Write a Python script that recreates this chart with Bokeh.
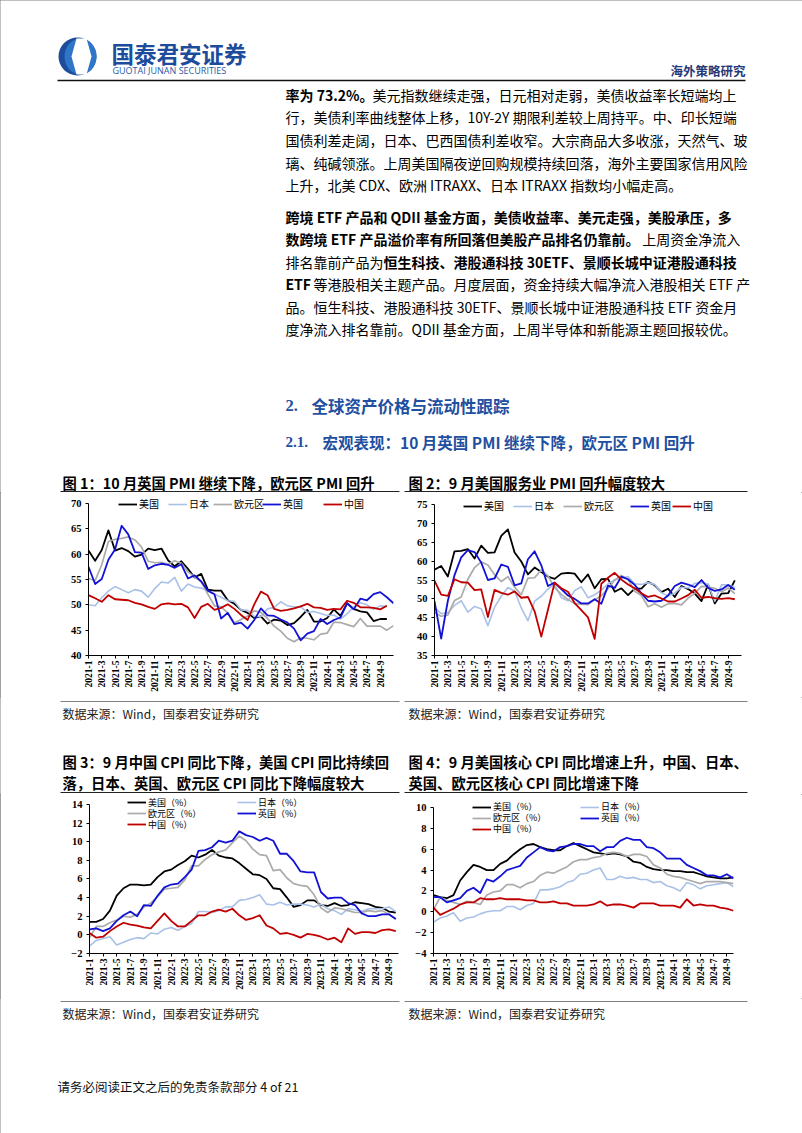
import math
from bokeh.plotting import figure
from bokeh.models import Range1d, FixedTicker, Legend, LegendItem, ColumnDataSource
from bokeh.layouts import column, row
from bokeh.embed import file_html
from bokeh.resources import INLINE
from bokeh.core.properties import value

# ---------------- data ----------------
tick_labels = ["2021-1", "2021-3", "2021-5", "2021-7", "2021-9", "2021-11",
               "2022-1", "2022-3", "2022-5", "2022-7", "2022-9", "2022-11",
               "2023-1", "2023-3", "2023-5", "2023-7", "2023-9", "2023-11",
               "2024-1", "2024-3", "2024-5", "2024-7", "2024-9"]
series_names = ["美国", "日本", "欧元区", "英国", "中国"]

# Fig 1: manufacturing PMI
mfg_us = [60.7, 58.7, 60.8, 64.7, 60.7, 61.2, 60.6, 59.5, 59.9, 61.1, 60.8, 61.1, 58.8, 57.6, 58.6, 57.1,
          55.4, 56.1, 53.0, 52.8, 52.8, 50.9, 50.2, 49.0, 48.4, 47.4, 47.7, 46.3, 47.1, 46.9, 46.0, 46.4,
          47.6, 49.0, 46.7, 46.7, 47.4, 49.1, 47.8, 50.3, 49.2, 48.7, 48.5, 46.8, 47.2, 47.2]
mfg_jp = [50.0, 49.8, 51.4, 52.7, 53.6, 53.0, 52.4, 53.0, 52.7, 51.5, 53.2, 54.5, 54.3, 55.4, 52.7, 54.1,
          53.5, 53.3, 52.7, 52.1, 51.5, 50.8, 50.7, 49.0, 48.9, 47.7, 47.7, 49.2, 49.5, 50.6, 49.8, 49.6,
          49.6, 48.5, 48.7, 48.3, 47.9, 48.0, 47.2, 48.2, 49.6, 50.4, 50.0, 49.1, 49.8, 49.7]
mfg_ez = [55.2, 54.8, 57.9, 62.5, 62.9, 63.1, 63.4, 62.8, 61.4, 58.6, 58.3, 58.4, 58.0, 58.7, 58.2, 56.5,
          55.5, 54.6, 52.1, 49.8, 49.6, 48.4, 46.4, 47.1, 47.8, 48.8, 48.5, 47.3, 45.8, 44.8, 43.4, 42.7,
          43.5, 43.4, 43.1, 44.2, 44.4, 46.6, 46.5, 46.1, 45.7, 47.3, 45.8, 45.8, 45.8, 45.0, 45.9]
mfg_uk = [57.5, 54.1, 55.1, 58.9, 60.9, 65.6, 63.9, 60.4, 60.3, 57.1, 57.8, 58.1, 57.9, 57.3, 58.0, 55.2,
          55.8, 54.6, 52.8, 52.1, 47.3, 48.4, 46.2, 46.5, 45.3, 47.0, 49.3, 47.9, 47.8, 47.1, 46.5, 45.3,
          43.0, 44.3, 44.8, 47.2, 46.2, 47.0, 47.5, 50.3, 49.1, 51.2, 50.9, 52.1, 52.5, 51.5, 50.3]
mfg_cn = [51.9, 51.3, 50.6, 51.9, 51.1, 51.0, 50.9, 50.4, 50.1, 49.6, 49.2, 50.1, 50.3, 50.1, 50.2, 49.5,
          47.4, 49.6, 50.2, 49.0, 49.4, 50.1, 49.2, 48.0, 47.0, 50.1, 52.6, 51.9, 49.2, 48.8, 49.0, 49.3,
          49.7, 50.2, 49.5, 49.4, 49.0, 49.2, 49.1, 50.8, 50.4, 49.5, 49.5, 49.4, 49.1, 49.8]

# Fig 2: services PMI
svc_us = [57.7, 58.7, 55.9, 62.6, 62.7, 63.2, 60.7, 64.1, 62.2, 62.3, 66.7, 68.4, 62.3, 59.9, 56.5, 58.3,
          57.1, 55.9, 55.3, 56.7, 56.9, 56.7, 54.4, 56.5, 52.8, 55.2, 55.3, 51.9, 52.8, 51.0, 52.7, 52.7,
          54.5, 53.6, 51.8, 52.7, 50.5, 53.4, 52.6, 51.4, 49.4, 53.8, 48.8, 51.4, 51.5, 54.9]
svc_jp = [47.7, 46.1, 46.3, 48.3, 49.5, 46.5, 48.0, 47.4, 42.9, 47.8, 50.7, 53.0, 52.1, 47.6, 44.2, 49.4,
          50.7, 52.6, 54.0, 50.3, 49.5, 52.2, 53.2, 50.3, 51.1, 52.3, 54.0, 55.0, 55.4, 55.9, 54.0, 53.8,
          54.3, 53.8, 51.6, 50.8, 51.5, 53.1, 52.9, 54.1, 54.3, 53.8, 49.4, 53.7, 53.7, 53.1]
svc_ez = [46.4, 45.4, 45.7, 49.6, 50.5, 55.2, 58.3, 59.8, 59.0, 56.4, 54.6, 55.9, 53.1, 51.1, 55.5, 55.6,
          57.7, 56.1, 53.0, 51.2, 49.8, 48.8, 48.6, 48.5, 49.8, 50.8, 52.7, 55.0, 56.2, 55.1, 52.0, 50.9,
          47.9, 48.7, 47.8, 48.7, 48.8, 48.4, 50.2, 51.5, 53.3, 53.2, 52.8, 51.9, 52.9, 51.4]
svc_uk = [49.4, 39.5, 49.5, 56.3, 61.0, 62.9, 62.4, 59.6, 55.0, 55.4, 59.1, 58.5, 53.6, 54.1, 60.5, 62.6,
          58.9, 53.4, 54.3, 52.6, 50.9, 50.0, 48.8, 48.8, 49.9, 48.7, 53.5, 52.9, 55.9, 55.2, 53.7, 51.5,
          49.5, 49.3, 49.5, 50.9, 53.4, 54.3, 53.8, 53.1, 55.0, 52.9, 52.1, 52.5, 53.7, 52.4]
svc_cn = [54.8, 51.1, 50.8, 55.2, 54.4, 54.3, 52.3, 52.5, 45.2, 52.4, 51.6, 51.1, 52.0, 50.3, 50.5, 46.7,
          40.0, 47.1, 54.3, 52.8, 51.9, 48.9, 47.0, 45.1, 39.4, 54.0, 55.6, 56.9, 55.1, 53.8, 52.8, 51.5,
          50.5, 50.9, 50.1, 49.3, 49.3, 50.1, 51.0, 52.4, 50.3, 50.5, 50.2, 50.0, 50.2, 49.9]

# Fig 3: CPI YoY (%)
cpi_us = [1.4, 1.4, 1.7, 2.6, 4.2, 5.0, 5.4, 5.4, 5.3, 5.4, 6.2, 6.8, 7.0, 7.5, 7.9, 8.5, 8.3, 8.6, 9.1, 8.5,
          8.3, 8.2, 7.7, 7.1, 6.5, 6.4, 6.0, 5.0, 4.9, 4.0, 3.0, 3.2, 3.7, 3.7, 3.2, 3.1, 3.4, 3.1, 3.2, 3.5,
          3.4, 3.3, 3.0, 2.9, 2.5, 2.4]
cpi_jp = [-1.2, -0.6, -0.4, -0.2, -1.1, -0.8, -0.5, -0.3, -0.4, 0.2, 0.1, 0.6, 0.8, 0.5, 0.9, 1.2, 2.5, 2.5,
          2.4, 2.6, 3.0, 3.0, 3.7, 3.8, 4.0, 4.3, 3.3, 3.2, 3.5, 3.2, 3.3, 3.3, 3.2, 3.0, 3.3, 2.8, 2.6, 2.2,
          2.8, 2.7, 2.5, 2.8, 2.8, 2.8, 3.0, 2.5]
cpi_ez = [-0.3, 0.9, 0.9, 1.3, 1.6, 2.0, 1.9, 2.2, 3.0, 3.4, 4.1, 4.9, 5.0, 5.1, 5.9, 7.4, 7.4, 8.1, 8.6, 8.9,
          9.1, 9.9, 10.6, 10.1, 9.2, 8.6, 8.5, 6.9, 7.0, 6.1, 5.5, 5.3, 5.2, 4.3, 2.9, 2.4, 2.9, 2.8, 2.6,
          2.4, 2.4, 2.6, 2.5, 2.6, 2.2, 1.7]
cpi_uk = [0.6, 0.7, 0.4, 0.7, 1.5, 2.1, 2.5, 2.0, 3.2, 3.1, 4.2, 5.1, 5.4, 5.5, 6.2, 7.0, 9.0, 9.1, 9.4, 10.1,
          9.9, 10.1, 11.1, 10.7, 10.5, 10.1, 10.4, 10.1, 8.7, 8.7, 7.9, 6.8, 6.7, 6.7, 4.6, 3.9, 4.0, 4.0,
          3.4, 3.2, 2.3, 2.0, 2.0, 2.2, 2.2, 1.7]
cpi_cn = [0.2, -0.3, -0.2, 0.4, 0.9, 1.3, 1.1, 1.0, 0.8, 0.7, 1.5, 2.3, 1.5, 0.9, 0.9, 1.5, 2.1, 2.1, 2.5, 2.7,
          2.5, 2.8, 2.1, 1.6, 1.8, 2.1, 1.0, 0.7, 0.1, 0.2, 0.0, -0.3, 0.1, 0.0, -0.2, -0.5, -0.3, -0.8,
          0.7, 0.1, 0.3, 0.3, 0.2, 0.5, 0.6, 0.4]

# Fig 4: core CPI YoY (%)
core_us = [1.6, 1.4, 1.3, 1.6, 3.0, 3.8, 4.5, 4.3, 4.0, 4.0, 4.6, 4.9, 5.5, 6.0, 6.4, 6.5, 6.2, 6.0, 5.9, 5.9,
           6.3, 6.6, 6.3, 6.0, 5.7, 5.6, 5.5, 5.6, 5.5, 5.3, 4.8, 4.7, 4.3, 4.1, 4.0, 4.0, 3.9, 3.9, 3.8,
           3.8, 3.6, 3.4, 3.3, 3.2, 3.2, 3.3]
core_jp = [-1.0, -0.6, -0.4, -0.1, -0.9, -0.6, -0.5, -0.2, 0.0, 0.1, 0.1, 0.5, 0.5, 0.2, 0.6, 0.8, 2.1, 2.1,
           2.2, 2.4, 2.8, 3.0, 3.6, 3.7, 4.0, 4.2, 3.1, 3.1, 3.4, 3.2, 3.3, 3.1, 3.1, 2.8, 2.9, 2.5, 2.3, 2.0,
           2.8, 2.6, 2.2, 2.5, 2.6, 2.7, 2.8, 2.4]
core_ez = [0.2, 1.4, 1.1, 0.9, 0.7, 1.0, 0.9, 0.7, 1.6, 1.9, 2.0, 2.6, 2.6, 2.3, 2.7, 2.9, 3.5, 3.8, 3.7, 4.0,
           4.3, 4.8, 5.0, 5.0, 5.2, 5.3, 5.6, 5.7, 5.6, 5.3, 5.5, 5.5, 5.3, 4.5, 4.2, 3.6, 3.4, 3.3, 3.1,
           2.9, 2.7, 2.9, 2.9, 2.9, 2.8, 2.7]
core_uk = [1.4, 1.4, 0.9, 1.1, 1.3, 2.0, 2.3, 1.8, 3.1, 2.9, 3.4, 4.0, 4.2, 4.4, 5.2, 5.7, 6.2, 5.9, 5.8, 6.2,
           6.3, 6.5, 6.5, 6.3, 6.3, 5.8, 6.2, 6.2, 6.8, 7.1, 6.9, 6.9, 6.2, 6.1, 5.7, 5.1, 5.1, 5.1, 4.5,
           4.2, 3.9, 3.5, 3.5, 3.3, 3.6, 3.2]
core_cn = [0.4, -0.3, 0.0, 0.3, 0.7, 0.9, 0.9, 1.3, 1.2, 1.2, 1.3, 1.2, 1.2, 1.2, 1.1, 1.1, 0.9, 0.9, 1.0, 0.8,
           0.8, 0.6, 0.6, 0.6, 0.7, 1.0, 0.6, 0.7, 0.7, 0.6, 0.4, 0.8, 0.8, 0.8, 0.6, 0.6, 0.6, 0.4, 1.2,
           0.6, 0.7, 0.6, 0.6, 0.4, 0.3, 0.1]

pmi1_ticks = [40, 45, 50, 55, 60, 65, 70]
pmi2_ticks = [35, 40, 45, 50, 55, 60, 65, 70, 75]
cpi_ticks = [-2, 0, 2, 4, 6, 8, 10, 12, 14]
core_ticks = [-4, -2, 0, 2, 4, 6, 8, 10]

# ---------------- style ----------------
SANS = "Noto Sans CJK SC"
SERIF = "Liberation Serif"
COLORS = {"美国": "#000000", "日本": "#a9c1e6", "欧元区": "#ababab", "英国": "#1212d6", "中国": "#c00000"}
WIDTHS = {"美国": 1.8, "日本": 1.6, "欧元区": 1.7, "英国": 1.8, "中国": 1.8}
BLUE_HEAD = "#1f4f9f"


def est_w(s, size, bold=False):
    w = 0.0
    lat = 1.06 if bold else 1.0
    for ch in s:
        if ord(ch) > 0x2E80:
            w += 1.0
        elif ch == " ":
            w += 0.224 * lat
        elif ch.isdigit():
            w += 0.553 * lat
        elif ch.isupper():
            w += 0.63 * lat
        elif ch in ".,":
            w += 0.27 * lat
        elif ch == "%":
            w += 0.88 * lat
        elif ch == "-":
            w += 0.35 * lat
        else:
            w += 0.52 * lat
    return w * size


def txt(p, x, y, s, size, color="#000000", bold=False, align="left", font=SANS):
    p.text(x=[x], y=[y], text=[s], text_font=value(font), text_font_size=f"{size}px",
           text_font_style="bold" if bold else "normal", text_color=color,
           text_align=align, text_baseline="middle")


def segs(p, x, y, parts, size):
    for s, b in parts:
        txt(p, x, y, s, size, bold=b)
        x += est_w(s, size, b)


def hline(p, x0, x1, y, color="#000000", w=1.0):
    p.line(x=[x0, x1], y=[y, y], line_color=color, line_width=w)


def band(y0, h):
    p = figure(width=802, height=h, x_range=Range1d(0, 802), y_range=Range1d(y0 + h, y0),
               x_axis_type=None, y_axis_type=None, toolbar_location=None,
               output_backend="svg", min_border=0)
    p.grid.visible = False
    p.outline_line_color = None
    return p


# ---------------- top band: header, text, headings, titles of fig 1/2 ----------------
top = band(0, 492)
# logo
top.ellipse(x=[77], y=[56], width=[38], height=[38], fill_color="#1d4c9c", line_color=None)
top.ellipse(x=[80], y=[56], width=[32], height=[36], fill_color="#2f76c8", line_color=None)
top.patch(x=[76, 86, 91, 86, 76, 71], y=[38, 38, 56, 74, 74, 56], fill_color="white", line_color=None)
txt(top, 111, 52, "国泰君安证券", 22.5, color="#1d4c9c", bold=True)
txt(top, 112, 70, "GUOTAI JUNAN SECURITIES", 9, color="#2a5aa6", bold=False, font="Open Sans")
txt(top, 745, 70, "海外策略研究", 12.5, color="#1f3a78", bold=True, align="right")
hline(top, 57, 745, 80, "#111111", 1.5)

FS = 14
X0 = 285
para1 = [
    [("率为 73.2%。", True), ("美元指数继续走强，日元相对走弱，美债收益率长短端均上", False)],
    [("行，美债利率曲线整体上移，10Y-2Y 期限利差较上周持平。中、印长短端", False)],
    [("国债利差走阔，日本、巴西国债利差收窄。大宗商品大多收涨，天然气、玻", False)],
    [("璃、纯碱领涨。上周美国隔夜逆回购规模持续回落，海外主要国家信用风险", False)],
    [("上升，北美 CDX、欧洲 ITRAXX、日本 ITRAXX 指数均小幅走高。", False)],
]
para2 = [
    [("跨境 ETF 产品和 QDII 基金方面，美债收益率、美元走强，美股承压，多", True)],
    [("数跨境 ETF 产品溢价率有所回落但美股产品排名仍靠前。", True), ("上周资金净流入", False)],
    [("排名靠前产品为", False), ("恒生科技、港股通科技 30ETF、景顺长城中证港股通科技", True)],
    [("ETF", True), (" 等港股相关主题产品。月度层面，资金持续大幅净流入港股相关 ETF 产", False)],
    [("品。恒生科技、港股通科技 30ETF、景顺长城中证港股通科技 ETF 资金月", False)],
    [("度净流入排名靠前。QDII 基金方面，上周半导体和新能源主题回报较优。", False)],
]
for i, parts in enumerate(para1):
    segs(top, X0, 94 + 22.7 * i, parts, FS)
for i, parts in enumerate(para2):
    segs(top, X0, 216 + 22.5 * i, parts, FS)

txt(top, 285, 405, "2.", 16.5, color=BLUE_HEAD, bold=True, font=SERIF)
txt(top, 311, 405, "全球资产价格与流动性跟踪", 16.5, color=BLUE_HEAD, bold=True)
txt(top, 285, 441, "2.1.", 15, color=BLUE_HEAD, bold=True, font=SERIF)
txt(top, 322, 441, "宏观表现：10 月英国 PMI 继续下降，欧元区 PMI 回升", 15.5, color=BLUE_HEAD, bold=True)

txt(top, 62, 482, "图 1：10 月英国 PMI 继续下降，欧元区 PMI 回升", 14.3, bold=True)
txt(top, 408, 482, "图 2：9 月美国服务业 PMI 回升幅度较大", 14.3, bold=True)
hline(top, 60, 399, 491, "#222222", 1.2)
hline(top, 404, 747, 491, "#222222", 1.2)


# ---------------- chart factory ----------------
def chart(width, height, borders, x_end, y_rng, y_top, y_ticks):
    """y_rng is the axis span (bounds); y_top extends the frame upward for the legend."""
    l, r, t, b = borders
    p = figure(width=width, height=height, x_range=Range1d(0, x_end), y_range=Range1d(y_rng[0], y_top),
               toolbar_location=None, output_backend="svg",
               min_border_left=l, min_border_right=r, min_border_top=t, min_border_bottom=b)
    p.grid.visible = False
    p.outline_line_color = None
    p.background_fill_color = "white"
    p.xaxis.ticker = FixedTicker(ticks=[2 * i for i in range(len(tick_labels))])
    p.xaxis.major_label_overrides = {2 * i: s for i, s in enumerate(tick_labels)}
    p.xaxis.major_label_orientation = math.pi / 2
    p.yaxis.ticker = FixedTicker(ticks=y_ticks)
    p.yaxis.bounds = y_rng
    for ax in (p.xaxis[0], p.yaxis[0]):
        ax.axis_line_color = "#000000"
        ax.axis_line_width = 1
        ax.major_tick_line_color = "#000000"
        ax.major_tick_out = 3
        ax.major_tick_in = 0
        ax.minor_tick_out = 0
        ax.minor_tick_in = 0
        ax.major_label_text_font = SERIF
        ax.major_label_text_font_style = "bold"
        ax.major_label_text_color = "#000000"
    p.xaxis.major_label_text_font_size = "9.5px"
    p.yaxis.major_label_text_font_size = "10.5px"
    p.xaxis.major_label_standoff = 2
    p.yaxis.major_label_standoff = 4
    return p


def draw_series(p, data):
    rs = {}
    for name in series_names:
        ys = data[name]
        src = ColumnDataSource(dict(x=list(range(len(ys))), y=ys))
        rs[name] = p.line("x", "y", source=src, line_color=COLORS[name], line_width=WIDTHS[name],
                          line_join="round")
    return rs


LEG_H = 12


def add_leg(p, r, label, x, y, fl, fb, fs=10):
    leg = Legend(items=[LegendItem(label=value(label), renderers=[r])],
                 location=(x - fl, fb - y - LEG_H / 2), orientation="horizontal",
                 padding=0, margin=0, spacing=0, glyph_width=19, glyph_height=8,
                 label_standoff=2, label_height=8,
                 label_text_font=SANS, label_text_font_size=f"{fs}px", label_text_color="#000000",
                 border_line_color=None, background_fill_alpha=0)
    p.add_layout(leg)


# Fig 1: 70 at y=503, 40 at y=656 (5.1 px/unit); frame top at 495
c1 = chart(401, 205, (88, 8, 3, 41), 46, (40, 70), 70 + 8 / 5.1, pmi1_ticks)
r1 = draw_series(c1, {"美国": mfg_us, "日本": mfg_jp, "欧元区": mfg_ez, "英国": mfg_uk, "中国": mfg_cn})
for name, xx in zip(series_names, [118, 168, 213, 262, 323]):
    add_leg(c1, r1[name], name, xx, 506, 88, 656)

# Fig 2: 75 at y=504, 35 at y=655 (3.775 px/unit); frame top at 495
c2 = chart(401, 205, (33, 61, 3, 42), 46, (35, 75), 75 + 9 / 3.775, pmi2_ticks)
r2 = draw_series(c2, {"美国": svc_us, "日本": svc_jp, "欧元区": svc_ez, "英国": svc_uk, "中国": svc_cn})
for name, xx in zip(series_names, [463, 513, 563, 630, 672]):
    add_leg(c2, r2[name], name, xx, 507, 434, 655)

# ---------------- middle band ----------------
mid = band(697, 97)
hline(mid, 60, 399, 701, "#808080", 1)
hline(mid, 404, 747, 701, "#808080", 1)
txt(mid, 62, 713, "数据来源：Wind，国泰君安证券研究", 12, color="#222222")
txt(mid, 408, 713, "数据来源：Wind，国泰君安证券研究", 12, color="#222222")
txt(mid, 62, 761, "图 3：9 月中国 CPI 同比下降，美国 CPI 同比持续回", 14.3, bold=True)
txt(mid, 62, 782, "落，日本、英国、欧元区 CPI 同比下降幅度较大", 14.3, bold=True)
txt(mid, 408, 761, "图 4：9 月美国核心 CPI 同比增速上升，中国、日本、", 14.3, bold=True)
txt(mid, 408, 782, "英国、欧元区核心 CPI 同比增速下降", 14.3, bold=True)
hline(mid, 60, 399, 792, "#222222", 1.2)
hline(mid, 404, 747, 792, "#222222", 1.2)

# Fig 3: 14 at y=804, -2 at y=955 (9.4375 px/unit); frame top at 794
c3 = chart(401, 204, (89, 3, 0, 43), 45.4, (-2, 14), 14 + 10 / 9.4375, cpi_ticks)
r3 = draw_series(c3, {"美国": cpi_us, "日本": cpi_jp, "欧元区": cpi_ez, "英国": cpi_uk, "中国": cpi_cn})
leg3 = {"美国": (127, 804.5), "欧元区": (127, 815.5), "中国": (127, 826.5), "日本": (237, 804.5), "英国": (237, 815.5)}
for name, (xx, yy) in leg3.items():
    add_leg(c3, r3[name], name + "（%）", xx, yy, 89, 955, fs=9)

# Fig 4: 10 at y=807, -4 at y=953 (10.43 px/unit); frame top at 794
c4 = chart(401, 204, (32, 69, 0, 45), 45, (-4, 10), 10 + 13 / 10.43, core_ticks)
r4 = draw_series(c4, {"美国": core_us, "日本": core_jp, "欧元区": core_ez, "英国": core_uk, "中国": core_cn})
leg4 = {"美国": (472, 807), "欧元区": (472, 818), "中国": (472, 829), "日本": (580, 807), "英国": (580, 818)}
for name, (xx, yy) in leg4.items():
    add_leg(c4, r4[name], name + "（%）", xx, yy, 433, 953, fs=9)

# ---------------- bottom band ----------------
bot = band(998, 135)
hline(bot, 60, 399, 1001, "#808080", 1)
hline(bot, 404, 747, 1001, "#808080", 1)
txt(bot, 62, 1013, "数据来源：Wind，国泰君安证券研究", 12, color="#222222")
txt(bot, 408, 1013, "数据来源：Wind，国泰君安证券研究", 12, color="#222222")
txt(bot, 57, 1086, "请务必阅读正文之后的免责条款部分 4 of 21", 12.5, color="#111111")

page = column(top, row(c1, c2, spacing=0), mid, row(c3, c4, spacing=0), bot, spacing=0,
              styles={"outline": "1px solid #808080", "outline-offset": "-1px"})

with open("out.html", "w") as f:
    f.write(file_html(page, INLINE))
